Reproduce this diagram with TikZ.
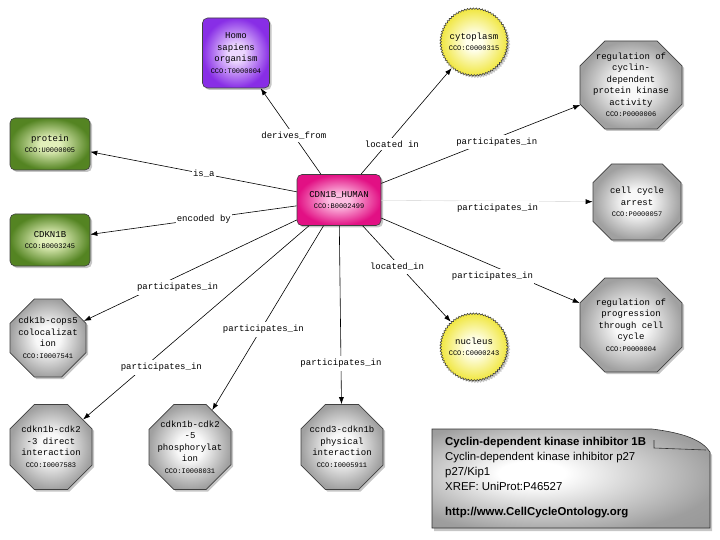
\documentclass[tikz,border=0pt]{standalone}
\usepackage{fontspec}
\setmonofont{Liberation Mono}
\setsansfont{Liberation Sans}
\usetikzlibrary{shapes.misc,shadows,decorations.pathmorphing,arrows.meta}

\definecolor{hubout}{RGB}{226,16,132}
\definecolor{hubin}{RGB}{253,190,226}
\definecolor{orgout}{RGB}{136,46,230}
\definecolor{orgin}{RGB}{236,214,255}
\definecolor{protout}{RGB}{84,132,34}
\definecolor{protin}{RGB}{226,240,186}
\definecolor{procout}{RGB}{160,160,160}
\definecolor{procin}{RGB}{248,248,248}
\definecolor{locout}{RGB}{240,230,60}
\definecolor{locin}{RGB}{255,255,236}

\pgfdeclareradialshading{hubglow}{\pgfpoint{0bp}{0bp}}{color(0bp)=(hubin); color(6bp)=(hubin); color(25bp)=(hubout); color(50bp)=(hubout)}
\pgfdeclareradialshading{orgglow}{\pgfpoint{0bp}{0bp}}{color(0bp)=(orgin); color(6bp)=(orgin); color(25bp)=(orgout); color(50bp)=(orgout)}
\pgfdeclareradialshading{protglow}{\pgfpoint{0bp}{0bp}}{color(0bp)=(protin); color(6bp)=(protin); color(25bp)=(protout); color(50bp)=(protout)}
\pgfdeclareradialshading{procglow}{\pgfpoint{0bp}{0bp}}{color(0bp)=(procin); color(8bp)=(procin); color(25bp)=(procout); color(50bp)=(procout)}
\pgfdeclareradialshading{locglow}{\pgfpoint{0bp}{0bp}}{color(0bp)=(locin); color(6bp)=(locin); color(25bp)=(locout); color(50bp)=(locout)}
\pgfdeclareradialshading{noteglow}{\pgfpoint{-8bp}{3bp}}{color(0bp)=(white); color(6bp)=(white); color(30bp)=(black!38); color(50bp)=(black!45)}

\newcommand{\ccoid}[1]{{\fontsize{7}{9}\selectfont #1}}

\tikzset{
	term/.style={font=\ttfamily\fontsize{9}{11.5}\selectfont, align=center, inner sep=1pt,
		draw=black!75, line width=0.6pt, shade,
		drop shadow={shadow xshift=2pt, shadow yshift=-2pt, opacity=0.45}},
	ccobox/.style={term, rectangle, rounded corners=5pt},
	hubbox/.style={ccobox, shading=hubglow, minimum width=84pt, minimum height=51pt},
	orgbox/.style={ccobox, shading=orgglow, minimum width=67pt, minimum height=70pt},
	protbox/.style={ccobox, shading=protglow, minimum width=80pt, minimum height=52pt},
	procgon/.style={term, chamfered rectangle, chamfered rectangle xsep=22pt, inner xsep=-18pt,
		shading=procglow},
	locburst/.style={term, circle, minimum size=68pt, shading=locglow,
		decorate, decoration={bumps, segment length=6pt, amplitude=1.4pt}},
	rel/.style={-{Latex[length=7pt,width=5pt]}, line width=0.6pt},
	lbl/.style={font=\ttfamily\fontsize{9}{11}\selectfont, fill=white, inner xsep=1pt, inner ysep=3pt}
}

\begin{document}
\begin{tikzpicture}[x=1pt, y=-1pt]
	\useasboundingbox (0,0) rectangle (720,540);

	\node[hubbox] (hub) at (339,200) {CDN1B\_HUMAN\\\ccoid{CCO:B0002499}};
	\node[orgbox] (homo) at (236,53) {Homo\\sapiens\\organism\\\ccoid{CCO:T0000004}};
	\node[protbox] (protein) at (50,144) {protein\\\ccoid{CCO:U0000005}};
	\node[protbox] (gene) at (50,240) {CDKN1B\\\ccoid{CCO:B0003245}};
	\node[locburst] (cytoplasm) at (474,42) {cytoplasm\\\ccoid{CCO:C0000315}};
	\node[locburst] (nucleus) at (474,347) {nucleus\\\ccoid{CCO:C0000243}};
	\node[procgon, minimum width=102pt, minimum height=88pt] (cdkreg) at (631,85)
		{regulation of\\cyclin-\\dependent\\protein kinase\\activity\\\ccoid{CCO:P0000006}};
	\node[procgon, minimum width=88pt, minimum height=76pt] (arrest) at (637,202)
		{cell cycle\\arrest\\\ccoid{CCO:P0000057}};
	\node[procgon, minimum width=102pt, minimum height=94pt] (progreg) at (631,325)
		{regulation of\\progression\\through cell\\cycle\\\ccoid{CCO:P0000004}};
	\node[procgon, minimum width=76pt, minimum height=78pt] (cops) at (48,338)
		{cdk1b-cops5\\colocalizat\\ion\\\ccoid{CCO:I0007541}};
	\node[procgon, minimum width=82pt, minimum height=85pt] (cdkthree) at (51,447)
		{cdkn1b-cdk2\\-3 direct\\interaction\\\ccoid{CCO:I0007583}};
	\node[procgon, minimum width=82pt, minimum height=85pt] (cdkfive) at (190,447)
		{cdkn1b-cdk2\\-5\\phosphorylat\\ion\\\ccoid{CCO:I0008031}};
	\node[procgon, minimum width=82pt, minimum height=85pt] (ccnd) at (342,447)
		{ccnd3-cdkn1b\\physical\\interaction\\\ccoid{CCO:I0005911}};

	\draw[rel] (hub) -- node[lbl, pos=0.45] {derives\_from} (homo);
	\draw[rel] (hub) -- node[lbl, pos=0.34, yshift=-6pt] {located in} (cytoplasm);
	\draw[rel] (hub) -- node[lbl, pos=0.58, yshift=-4pt] {participates\_in} (cdkreg);
	\draw[rel] (hub) -- node[lbl, pos=0.45] {is\_a} (protein);
	\draw[rel] (hub) -- node[lbl, pos=0.45] {encoded by} (gene);
	\draw[rel] (hub) -- node[lbl, pos=0.56, yshift=-11pt] {participates\_in} (cops);
	\draw[rel] (hub) -- node[lbl, pos=0.39, yshift=-4pt] {located\_in} (nucleus);
	\draw[rel] (hub) -- node[lbl, pos=0.56, yshift=-11pt] {participates\_in} (progreg);
	\draw[rel] (hub) -- node[lbl, pos=0.54, yshift=-4pt] {participates\_in} (cdkfive);
	\draw[rel] (hub) -- node[lbl, pos=0.68, xshift=6pt, yshift=-10pt] {participates\_in} (cdkthree);
	\draw[rel] (hub) -- node[lbl, pos=0.76, yshift=-2pt] {participates\_in} (ccnd);
	\draw[rel, draw=black!12, -{Latex[length=7pt,width=5pt,color=black]}]
	(hub) -- node[lbl, pos=0.55, yshift=-7pt] {participates\_in} (arrest);

	% info note
	\draw[line width=0.6pt, draw=black!80, shade, shading=noteglow,
		drop shadow={shadow xshift=2pt, shadow yshift=-3pt, opacity=0.45}]
	(432,429) -- (652,429) .. controls (684,433) and (702,440) .. (710,452)
	-- (710,528) -- (432,528) -- cycle;
	\draw[line width=0.6pt, draw=black!80] (654,440) -- (654,448) -- (706,450);
	\node[font=\sffamily\fontsize{11.4}{15}\selectfont, align=left, anchor=north west, inner sep=0pt] (info) at (445,437)
		{\textbf{Cyclin-dependent kinase inhibitor 1B}\\Cyclin-dependent kinase inhibitor p27\\p27/Kip1\\XREF: UniProt:P46527\\[10pt]\textbf{http://www.CellCycleOntology.org}};
\end{tikzpicture}
\end{document}
